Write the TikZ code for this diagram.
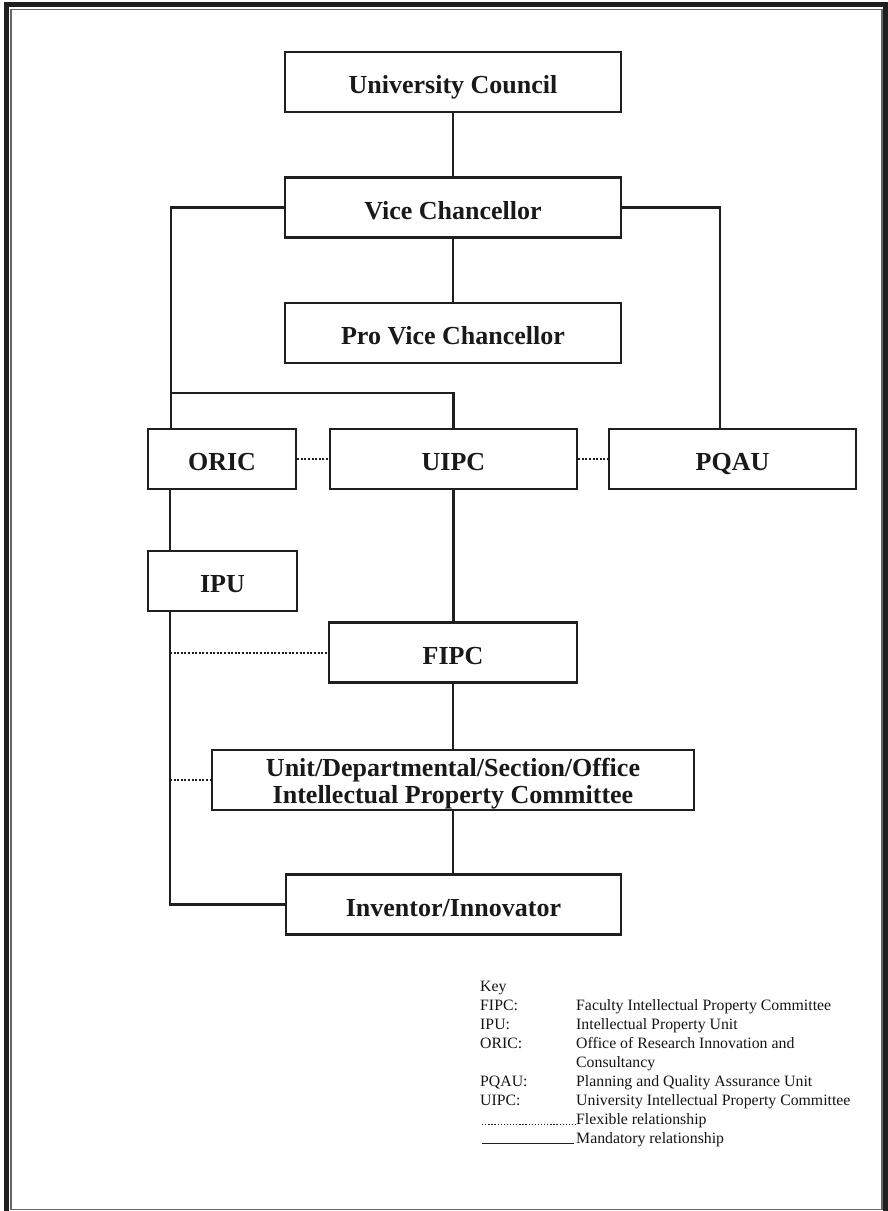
\documentclass[tikz,border=0pt]{standalone}
\usepackage{fontspec}
\setmainfont{Liberation Serif}
\begin{document}
\begin{tikzpicture}
% Organisation chart of the intellectual property bodies
\def\pxsz{1pt}
\providecommand{\orgFrameColor}{black!88}
\providecommand{\orgInnerColor}{black!60}
\providecommand{\orgBoxLineWidth}{2.4pt}
\providecommand{\orgLinkLineWidth}{2.2pt}
\tikzset{
  orgbox/.style={draw=\orgFrameColor, line width=\orgBoxLineWidth, align=center, inner sep=0pt,
    minimum height=60pt, text height=24pt, text depth=0.6pt,
    font=\bfseries\fontsize{26}{27}\selectfont, text=black!90},
  mandatory/.style={draw=\orgFrameColor, line width=\orgLinkLineWidth},
  flexible/.style={draw=\orgFrameColor, line width=2pt, dash pattern=on 2pt off 1.6pt},
  keytext/.style={anchor=base west, inner sep=0pt, font=\fontsize{15.8}{19}\selectfont, text=black!92}
}
\begin{scope}[x=\pxsz, y=-\pxsz, line cap=butt, line join=miter]
  \useasboundingbox (0,0) rectangle (888,1211);
  % Double frame round the page
  \draw[\orgFrameColor, line width=5pt] (6.5,4.5) rectangle (885.5,1230);
  \draw[\orgInnerColor, line width=1.2pt] (11,9.5) rectangle (882,1209.5);
  % Boxes
  \node[orgbox, minimum width=336pt] (uc)   at (453,82)    {University Council};
  \node[orgbox, minimum width=336pt] (vc)   at (453,207.5) {Vice Chancellor};
  \node[orgbox, minimum width=336pt] (pvc)  at (453,333)   {Pro Vice Chancellor};
  \node[orgbox, minimum width=148pt] (oric) at (222,459)   {ORIC};
  \node[orgbox, minimum width=247pt] (uipc) at (453.5,459) {UIPC};
  \node[orgbox, minimum width=247pt] (pqau) at (732.5,459) {PQAU};
  \node[orgbox, minimum width=149pt] (ipu)  at (222.5,581) {IPU};
  \node[orgbox, minimum width=248pt] (fipc) at (453,652.5) {FIPC};
  \node[orgbox, minimum width=482pt, text height=52pt, text depth=6pt] (unit) at (453,780)
    {Unit/Departmental/Section/Office\\Intellectual Property Committee};
  \node[orgbox, minimum width=335pt] (inv)  at (453.5,904.5) {Inventor/Innovator};
  % Bus points of the connectors
  \coordinate (busL) at (171,393);
  \coordinate (busR) at (720,0);
  \coordinate (rail) at (170,0);
  % Mandatory relationships
  \begin{scope}[mandatory]
    \draw (uc.south) -- (vc.north);
    \draw (vc.south) -- (pvc.north);
    \draw (vc.west) -| (oric.north -| busL);
    \draw (busL) -| (uipc.north);
    \draw (vc.east) -| (pqau.north -| busR);
    \draw (oric.south -| rail) -- (ipu.north -| rail);
    \draw (ipu.south -| rail) |- (inv.west);
    \draw (uipc.south) -- (uipc.south |- fipc.north);
    \draw (fipc.south) -- (fipc.south |- unit.north);
    \draw (unit.south) -- (unit.south |- inv.north);
  \end{scope}
  % Flexible relationships
  \begin{scope}[flexible]
    \draw (oric.east) -- (uipc.west);
    \draw (uipc.east) -- (pqau.west);
    \draw (fipc.west -| rail) -- (fipc.west);
    \draw (unit.west -| rail) -- (unit.west);
  \end{scope}
  % Key
  \node[keytext] (keyhead) at (480,991.5)  {Key};
  \node[keytext] (kfipc)   at (480,1010.5) {FIPC:};
  \node[keytext] (kipu)    at (480,1029.5) {IPU:};
  \node[keytext] (koric)   at (480,1048.5) {ORIC:};
  \node[keytext] (kpqau)   at (480,1086.5) {PQAU:};
  \node[keytext] (kuipc)   at (480,1105.5) {UIPC:};
  \node[keytext] (dfipc)   at (576,1010.5) {Faculty Intellectual Property Committee};
  \node[keytext] (dipu)    at (576,1029.5) {Intellectual Property Unit};
  \node[keytext] (doric)   at (576,1048.5) {Office of Research Innovation and};
  \node[keytext] (doric2)  at (576,1067.5) {Consultancy};
  \node[keytext] (dpqau)   at (576,1086.5) {Planning and Quality Assurance Unit};
  \node[keytext] (duipc)   at (576,1105.5) {University Intellectual Property Committee};
  \node[keytext] (dflex)   at (576,1124.5) {Flexible relationship};
  \node[keytext] (dmand)   at (576,1143.5) {Mandatory relationship};
  \coordinate (kflex) at (482,1124.5);
  \coordinate (kmand) at (482,1143.5);
  \draw[\orgFrameColor, line width=1.3pt, dash pattern=on 1.3pt off 1.8pt] (kflex) -- (dflex.base west);
  \draw[\orgFrameColor, line width=1.2pt] (kmand) -- ([xshift=-2pt]dmand.base west);
\end{scope}
\end{tikzpicture}
\end{document}
